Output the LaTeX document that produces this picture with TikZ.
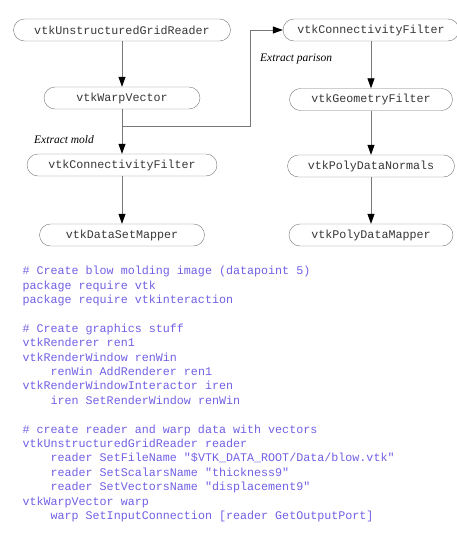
\documentclass[tikz,border=0pt]{standalone}
\usepackage{fontspec}
\setmainfont{Liberation Serif}
\setmonofont{Liberation Mono}
\usetikzlibrary{arrows.meta}
\definecolor{codeblue}{RGB}{112,96,228}
\definecolor{boxgray}{RGB}{120,120,120}
\definecolor{labgray}{RGB}{55,55,55}
\tikzset{
  filter/.style={draw=boxgray, rounded corners=11pt, minimum height=22pt,
    inner sep=0pt, text=labgray, font=\fontsize{11.7}{14}\ttfamily},
  pipe/.style={draw=boxgray, line width=0.8pt, -{Triangle[length=10pt,width=7pt,color=black]}},
  note/.style={anchor=west, inner sep=0pt, font=\fontsize{11.5}{14}\itshape},
  code/.style={anchor=base west, inner sep=0pt, align=left, text=codeblue,
    font=\fontsize{11.7}{14.41}\ttfamily}
}
\newcommand{\ind}{\phantom{0000}}
\begin{document}
\begin{tikzpicture}[x=1pt, y=-1pt]
  \useasboundingbox (0,0) rectangle (456,533);
  % left pipeline
  \node[filter, minimum width=217pt] (reader) at (122,30) {vtkUnstructuredGridReader};
  \node[filter, minimum width=156pt] (warp)   at (122,98) {vtkWarpVector};
  \node[filter, minimum width=190pt] (connL)  at (122,165) {vtkConnectivityFilter};
  \node[filter, minimum width=165pt] (dsmap)  at (122,235) {vtkDataSetMapper};
  \coordinate (split) at (122,126);
  \draw[pipe] (reader) -- (warp);
  \draw[pipe] (warp) -- (connL);
  \draw[pipe] (connL) -- (dsmap);
  \node[note] (mold) at (34,140) {Extract mold};

  % right pipeline
  \node[filter, minimum width=176pt] (connR)   at (371,30) {vtkConnectivityFilter};
  \node[filter, minimum width=163pt] (geom)    at (371,99.5) {vtkGeometryFilter};
  \node[filter, minimum width=167pt] (normals) at (371,166) {vtkPolyDataNormals};
  \node[filter, minimum width=164pt] (pdmap)   at (371,235) {vtkPolyDataMapper};
  \draw[pipe] (connR) -- (geom);
  \draw[pipe] (geom) -- (normals);
  \draw[pipe] (normals) -- (pdmap);
  \draw[pipe] (split) -- ++(128,0) |- (connR.west);
  \node[note] (parison) at (260,59) {Extract parison};

  % tcl script (anchored on its last line)
  \node[code] (script) at (22.3,519.6) {%
    \#\ Create blow molding image (datapoint 5)\\
    package require vtk\\
    package require vtkinteraction\\[14.41pt]
    \#\ Create graphics stuff\\
    vtkRenderer ren1\\
    vtkRenderWindow renWin\\
    \ind renWin AddRenderer ren1\\
    vtkRenderWindowInteractor iren\\
    \ind iren SetRenderWindow renWin\\[14.41pt]
    \#\ create reader and warp data with vectors\\
    vtkUnstructuredGridReader reader\\
    \ind reader SetFileName "\$VTK\_DATA\_ROOT/Data/blow.vtk"\\
    \ind reader SetScalarsName "thickness9"\\
    \ind reader SetVectorsName "displacement9"\\
    vtkWarpVector warp\\
    \ind warp SetInputConnection [reader GetOutputPort]};
\end{tikzpicture}
\end{document}
